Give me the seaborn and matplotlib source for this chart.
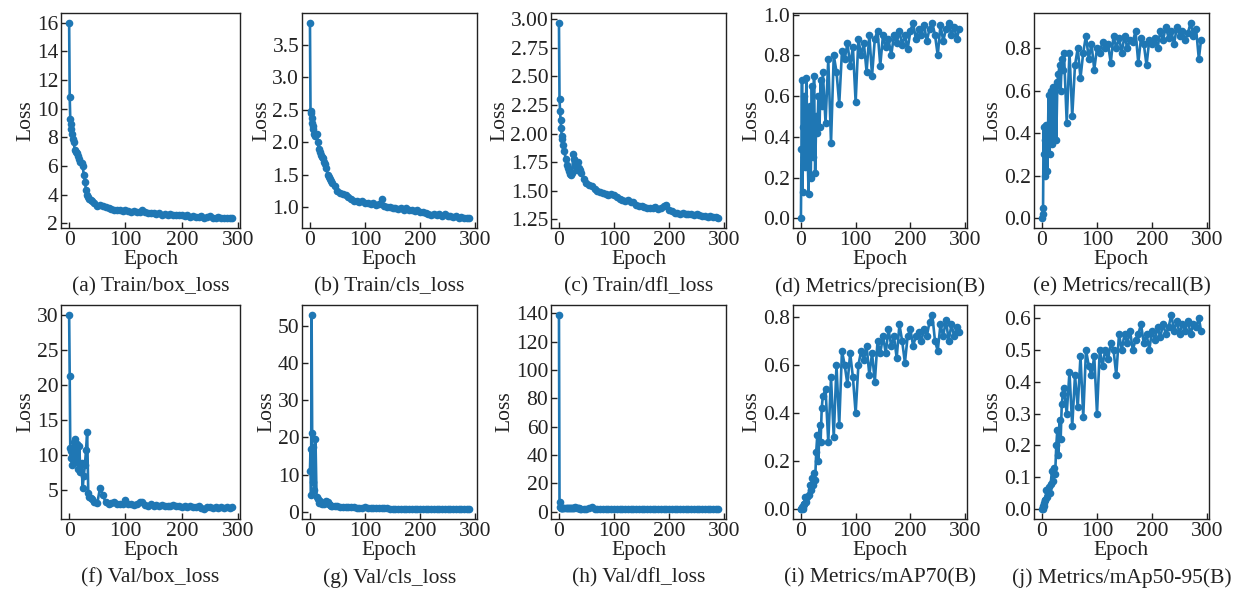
import matplotlib
matplotlib.use("Agg")
import matplotlib.pyplot as plt
from matplotlib.ticker import MultipleLocator
import seaborn as sns

epochs = [0, 1, 2, 3, 4, 5, 6, 8, 10, 12, 14, 16, 18, 20, 22, 24, 26, 28, 30, 32,
          34, 36, 38, 40, 45, 50, 55, 60, 65, 70, 75, 80, 85, 90, 95, 100, 105, 110, 115, 120,
          125, 130, 135, 140, 145, 150, 155, 160, 165, 170, 175, 180, 185, 190, 195, 200, 205, 210, 215, 220,
          225, 230, 235, 240, 245, 250, 255, 260, 265, 270, 275, 280, 285, 289]

train_box = [16.0, 10.8, 9.3, 8.9, 8.6, 8.2, 7.9, 7.7, 7.1, 7.0, 6.9, 6.7, 6.5, 6.3, 6.2, 6.0, 5.4, 4.9, 4.3, 4.0,
             3.8, 3.7, 3.6, 3.55, 3.4, 3.2, 3.25, 3.2, 3.1, 3.05, 3.0, 2.95, 2.9, 2.95, 2.85, 2.9, 2.85, 2.8, 2.85, 2.75,
             2.8, 2.95, 2.75, 2.7, 2.7, 2.7, 2.65, 2.7, 2.6, 2.65, 2.6, 2.65, 2.55, 2.6, 2.55, 2.55, 2.5, 2.55, 2.45, 2.5,
             2.45, 2.45, 2.5, 2.4, 2.45, 2.5, 2.4, 2.4, 2.45, 2.35, 2.4, 2.35, 2.4, 2.35]

train_cls = [3.84, 2.48, 2.45, 2.38, 2.3, 2.25, 2.2, 2.12, 2.1, 2.12, 2.0, 1.9, 1.85, 1.8, 1.78, 1.75, 1.7, 1.66, 1.6, 1.5,
             1.47, 1.44, 1.4, 1.38, 1.33, 1.25, 1.22, 1.2, 1.18, 1.15, 1.12, 1.1, 1.1, 1.08, 1.1, 1.07, 1.06, 1.05, 1.06, 1.03,
             1.05, 1.13, 1.02, 1.0, 1.01, 0.99, 0.98, 0.97, 0.99, 0.96, 0.98, 0.95, 0.96, 0.94, 0.95, 0.92, 0.93, 0.91, 0.9, 0.88,
             0.9, 0.88, 0.89, 0.86, 0.9, 0.86, 0.87, 0.85, 0.86, 0.84, 0.85, 0.83, 0.84, 0.83]

train_dfl = [2.97, 2.3, 2.2, 2.12, 2.05, 1.98, 1.95, 1.9, 1.85, 1.78, 1.73, 1.7, 1.67, 1.65, 1.64, 1.66, 1.82, 1.78, 1.72, 1.68,
             1.75, 1.7, 1.68, 1.66, 1.6, 1.57, 1.55, 1.54, 1.52, 1.5, 1.49, 1.48, 1.47, 1.46, 1.47, 1.46, 1.45, 1.43, 1.42, 1.41,
             1.42, 1.4, 1.4, 1.38, 1.37, 1.37, 1.36, 1.35, 1.35, 1.35, 1.36, 1.34, 1.35, 1.37, 1.38, 1.33, 1.32, 1.31, 1.31, 1.3,
             1.31, 1.3, 1.3, 1.3, 1.29, 1.3, 1.29, 1.28, 1.28, 1.27, 1.28, 1.27, 1.27, 1.26]

precision = [0.0, 0.34, 0.68, 0.13, 0.45, 0.3, 0.6, 0.25, 0.69, 0.35, 0.12, 0.55, 0.2, 0.65, 0.3, 0.7, 0.22, 0.5, 0.42, 0.6,
             0.45, 0.68, 0.55, 0.72, 0.47, 0.78, 0.37, 0.8, 0.72, 0.56, 0.82, 0.78, 0.86, 0.75, 0.84, 0.57, 0.88, 0.8, 0.86, 0.72,
             0.9, 0.7, 0.88, 0.92, 0.75, 0.9, 0.84, 0.88, 0.8, 0.9, 0.86, 0.92, 0.85, 0.9, 0.83, 0.92, 0.96, 0.88, 0.93, 0.9,
             0.95, 0.87, 0.93, 0.96, 0.9, 0.8, 0.95, 0.87, 0.93, 0.96, 0.9, 0.94, 0.88, 0.93]

recall = [0.0, 0.02, 0.05, 0.43, 0.3, 0.37, 0.2, 0.44, 0.22, 0.58, 0.3, 0.6, 0.35, 0.62, 0.37, 0.62, 0.37, 0.64, 0.68, 0.72,
          0.6, 0.75, 0.7, 0.78, 0.45, 0.78, 0.48, 0.72, 0.8, 0.66, 0.78, 0.86, 0.75, 0.82, 0.7, 0.8, 0.78, 0.83, 0.8, 0.82,
          0.73, 0.86, 0.8, 0.85, 0.78, 0.86, 0.8, 0.84, 0.83, 0.88, 0.73, 0.85, 0.82, 0.72, 0.84, 0.82, 0.85, 0.8, 0.88, 0.84,
          0.9, 0.85, 0.88, 0.82, 0.9, 0.86, 0.88, 0.84, 0.87, 0.92, 0.86, 0.89, 0.75, 0.84]

val_box = [30.0, 21.3, 11.0, 9.5, 10.5, 8.5, 9.8, 11.8, 12.3, 9.0, 11.5, 8.0, 11.2, 7.5, 8.8, 5.2, 7.0, 8.5, 10.7, 13.2,
           4.5, 4.0, 3.8, 3.6, 3.3, 3.1, 5.3, 4.2, 3.2, 3.0, 3.1, 3.3, 2.9, 3.0, 2.9, 3.5, 3.0, 2.9, 2.8, 2.9,
           3.3, 3.2, 2.8, 2.7, 2.9, 2.7, 2.8, 2.7, 2.8, 2.6, 2.7, 2.6, 2.8, 2.6, 2.6, 2.5, 2.6, 2.5, 2.6, 2.5,
           2.5, 2.6, 2.4, 2.2, 2.5, 2.5, 2.4, 2.5, 2.4, 2.5, 2.4, 2.5, 2.4, 2.5]

val_cls = [11.0, 17.0, 4.5, 53.0, 21.3, 8.0, 17.5, 6.0, 19.5, 4.0, 3.5, 2.5, 3.0, 2.5, 2.2, 2.3, 2.0, 2.5, 2.8, 2.6,
           2.0, 1.8, 1.7, 1.6, 1.5, 1.5, 1.4, 1.3, 1.4, 1.3, 1.2, 1.2, 1.1, 1.1, 1.1, 1.3, 1.1, 1.0, 1.0, 1.0,
           1.0, 0.95, 1.1, 0.95, 0.9, 0.9, 0.9, 0.88, 0.9, 0.85, 0.9, 0.85, 0.85, 0.82, 0.85, 0.8, 0.82, 0.8, 0.8, 0.78,
           0.8, 0.78, 0.76, 0.78, 0.75, 0.76, 0.74, 0.75, 0.73, 0.74, 0.72, 0.73, 0.71, 0.7]

val_dfl = [139.0, 6.5, 3.0, 2.6, 2.5, 2.4, 2.4, 2.3, 2.3, 2.4, 2.2, 2.3, 2.2, 2.3, 2.2, 2.2, 2.3, 2.4, 3.0, 2.4,
           2.2, 2.2, 2.1, 2.1, 2.1, 2.0, 2.2, 3.2, 2.0, 2.0, 2.0, 1.9, 2.0, 1.9, 1.9, 2.0, 1.9, 1.9, 1.8, 1.9,
           1.8, 1.9, 1.8, 1.8, 1.8, 1.8, 1.8, 1.7, 1.8, 1.7, 1.8, 1.7, 1.7, 1.7, 1.7, 1.7, 1.7, 1.7, 1.6, 1.7,
           1.6, 1.7, 1.6, 1.6, 1.6, 1.6, 1.6, 1.6, 1.6, 1.6, 1.6, 1.6, 1.6, 1.6]

map70 = [0.0, 0.0, 0.01, 0.0, 0.01, 0.02, 0.02, 0.05, 0.03, 0.05, 0.06, 0.1, 0.08, 0.13, 0.1, 0.15, 0.12, 0.24, 0.31, 0.2,
         0.35, 0.28, 0.42, 0.47, 0.5, 0.28, 0.55, 0.3, 0.6, 0.35, 0.66, 0.6, 0.52, 0.65, 0.55, 0.4, 0.6, 0.66, 0.62, 0.68,
         0.56, 0.65, 0.53, 0.7, 0.65, 0.72, 0.65, 0.75, 0.68, 0.72, 0.63, 0.77, 0.7, 0.61, 0.72, 0.75, 0.68, 0.72, 0.74, 0.7,
         0.75, 0.72, 0.78, 0.81, 0.7, 0.66, 0.77, 0.72, 0.79, 0.7, 0.77, 0.72, 0.76, 0.74]

map50_95 = [0.0, 0.0, 0.01, 0.01, 0.02, 0.03, 0.03, 0.06, 0.04, 0.07, 0.05, 0.08, 0.12, 0.09, 0.13, 0.11, 0.2, 0.25, 0.17, 0.28,
            0.22, 0.33, 0.36, 0.38, 0.3, 0.43, 0.26, 0.42, 0.32, 0.48, 0.29, 0.5, 0.45, 0.42, 0.48, 0.3, 0.5, 0.45, 0.5, 0.47,
            0.52, 0.5, 0.42, 0.55, 0.5, 0.55, 0.52, 0.56, 0.5, 0.53, 0.55, 0.58, 0.52, 0.55, 0.5, 0.56, 0.53, 0.57, 0.54, 0.58,
            0.55, 0.57, 0.61, 0.56, 0.59, 0.55, 0.58, 0.56, 0.59, 0.55, 0.58, 0.57, 0.6, 0.56]

series = [train_box, train_cls, train_dfl, precision, recall,
          val_box, val_cls, val_dfl, map70, map50_95]
captions = ["(a) Train/box_loss", "(b) Train/cls_loss", "(c) Train/dfl_loss",
            "(d) Metrics/precision(B)", "(e) Metrics/recall(B)",
            "(f) Val/box_loss", "(g) Val/cls_loss", "(h) Val/dfl_loss",
            "(i) Metrics/mAP70(B)", "(j) Metrics/mAp50-95(B)"]
y_steps = [2, 0.5, 0.25, 0.2, 0.2, 5, 10, 20, 0.2, 0.1]

# --- Style ---
sns.set_style("ticks", {"xtick.direction": "in", "ytick.direction": "in"})
plt.rcParams["font.family"] = ["Liberation Serif", "DejaVu Serif"]
plt.rcParams["font.size"] = 15
plt.rcParams["axes.edgecolor"] = "#222222"
plt.rcParams["axes.linewidth"] = 1.0

fig = plt.figure(figsize=(12.41, 5.92), dpi=100)
W, H = 1241, 592
col_left = [61, 302, 551, 793, 1034]
col_width = [179, 175, 175, 174, 175]
row_top = [13, 305]
row_height = [215, 214]

color = "#1f77b4"
for i, vals in enumerate(series):
    r, c = divmod(i, 5)
    rect = [col_left[c] / W, (H - row_top[r] - row_height[r]) / H,
            col_width[c] / W, row_height[r] / H]
    ax = fig.add_axes(rect)
    sns.lineplot(x=epochs, y=vals, ax=ax, color=color, marker="o",
                 markersize=5.5, markeredgewidth=0, linewidth=1.9)
    ax.set_xticks([0, 100, 200, 300])
    ax.yaxis.set_major_locator(MultipleLocator(y_steps[i]))
    ax.tick_params(direction="in", length=4, width=1, pad=2, labelsize=15.5, colors="#222222")
    ax.set_xlabel("Epoch", fontsize=15.5, labelpad=0, color="#222222")
    ax.set_ylabel("Loss", fontsize=15.5, labelpad=1, color="#222222")
    ax.text(0.5, -0.275, captions[i], transform=ax.transAxes,
            ha="center", va="center", fontsize=15.5, color="#222222")

plt.savefig("out.png", dpi=100)
